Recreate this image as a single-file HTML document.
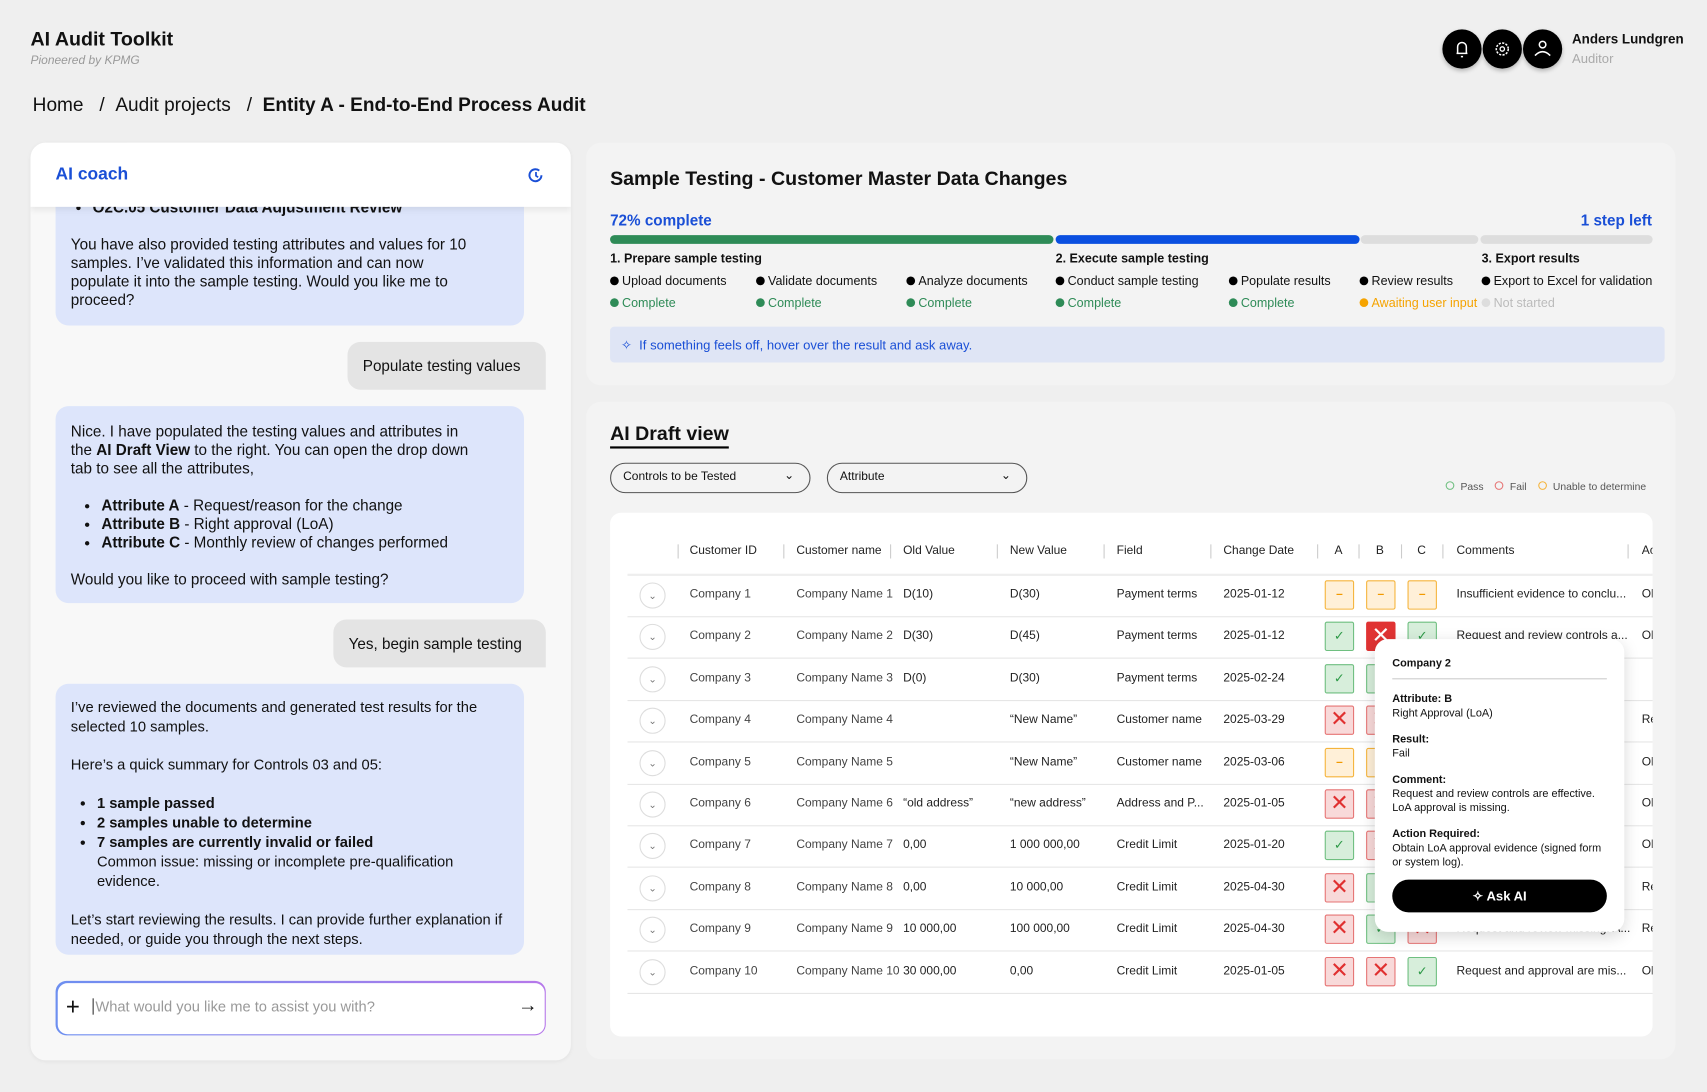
<!DOCTYPE html>
<html><head><meta charset="utf-8"><style>
*{box-sizing:border-box;margin:0;padding:0}
html,body{width:1707px;height:1092px;overflow:hidden;background:#efefef;font-family:"Liberation Sans",sans-serif;color:#111}
#w{position:absolute;left:0;top:0;width:1567px;height:1003px;transform:scale(1.0894,1.0887);transform-origin:0 0}
.a{position:absolute;white-space:nowrap}
.ic{position:absolute;width:36px;height:36px;border-radius:50%;background:#000;box-shadow:0 2px 4px rgba(0,0,0,.25)}
.card{position:absolute;border-radius:14px}
.bub{position:absolute;background:#dde5fb;border-radius:0 0 12px 12px;font-size:14px;line-height:17px;padding:0 40px 0 14px}
.ub{position:absolute;background:#e4e4e4;border-radius:12px 12px 0 12px;font-size:14px;padding:0 14px;line-height:44px}
ul{padding-left:20px}
.dot{display:inline-block;width:8px;height:8px;border-radius:50%;margin-right:3px;vertical-align:0}
.step{font-size:11.5px;position:absolute;white-space:nowrap}
.th{position:absolute;top:500px;font-size:11px;color:#222}
.sep{position:absolute;top:500px;width:1px;height:13px;background:#ccc}
.row{position:absolute;left:576px;width:941px;height:1px;background:#e6e6e6}
.td{position:absolute;font-size:11px;color:#444;white-space:nowrap}
.chev{position:absolute;width:24px;height:24px;border:1px solid #ddd;border-radius:50%;left:587px;font-size:9px;color:#777;text-align:center;line-height:22px}
.bx{position:absolute;width:27px;height:27px;border-radius:2px;text-align:center;font-size:16px;line-height:25px}
.P{background:#d7eedb;border:1px solid #6fbf80;color:#2e9a48;font-size:12px}
.F{background:#f8d9d9;border:1px solid #e67474;color:#e03030;font-size:20px}
.U{background:#fff0d8;border:1px solid #f5b43c;color:#f29a00;font-size:11px;font-weight:bold}
.FS{background:#e03333;border:1px solid #e03333;color:#fff;font-size:20px}
</style></head><body><div id="w">
<div class="a" style="left:28px;top:26px;font-size:18px;font-weight:bold">AI Audit Toolkit</div>
<div class="a" style="left:28px;top:50px;font-size:11px;color:#999;font-style:italic">Pioneered by KPMG</div>
<div class="ic" style="left:1324px;top:27px"><svg width="36" height="36"><path d="M13 22h10M14 22v-6a4 4 0 0 1 8 0v6M17 25h2" stroke="#fff" stroke-width="1.4" fill="none"/></svg></div>
<div class="ic" style="left:1361px;top:27px"><svg width="36" height="36"><circle cx="18" cy="18" r="5.5" stroke="#fff" stroke-width="1.4" fill="none" stroke-dasharray="2 1.2"/><circle cx="18" cy="18" r="2" stroke="#fff" stroke-width="1.2" fill="none"/></svg></div>
<div class="ic" style="left:1398px;top:27px"><svg width="36" height="36"><circle cx="18" cy="14" r="3" stroke="#fff" stroke-width="1.4" fill="none"/><path d="M11 24q7-7 14 0" stroke="#fff" stroke-width="1.4" fill="none"/></svg></div>
<div class="a" style="left:1443px;top:29px;font-size:12.3px;font-weight:bold">Anders Lundgren</div>
<div class="a" style="left:1443px;top:47px;font-size:12px;color:#aaa">Auditor</div>
<div class="a" style="left:30px;top:86px;font-size:17.5px">Home &nbsp;&nbsp;/ &nbsp;Audit projects &nbsp;&nbsp;/ &nbsp;<b>Entity A - End-to-End Process Audit</b></div>

<div class="card" style="left:28px;top:131px;width:496px;height:843px;background:#f8f8f8;box-shadow:0 1px 4px rgba(0,0,0,.06);overflow:hidden">
 <div class="bub" style="left:23px;top:40px;width:430px;height:128px;padding-top:17px"><ul style="font-weight:bold;margin-top:-6px"><li>O2C.05 Customer Data Adjustment Review</li></ul><div style="margin-top:17px">You have also provided testing attributes and values for 10 samples. I’ve validated this information and can now populate it into the sample testing. Would you like me to proceed?</div></div>
 <div class="ub" style="left:291px;top:183px;width:182px">Populate testing values</div>
 <div class="bub" style="left:23px;top:242px;width:430px;height:181px;border-radius:12px;padding-top:15px">Nice. I have populated the testing values and attributes in the <b>AI Draft View</b> to the right. You can open the drop down tab to see all the attributes,<ul style="margin:17px 0 17px 8px"><li><b>Attribute A</b> - Request/reason for the change</li><li><b>Attribute B</b> - Right approval (LoA)</li><li><b>Attribute C</b> - Monthly review of changes performed</li></ul>Would you like to proceed with sample testing?</div>
 <div class="ub" style="left:278px;top:438px;width:195px">Yes, begin sample testing</div>
 <div class="bub" style="left:23px;top:497px;width:430px;height:249px;border-radius:12px;padding-top:13px;padding-right:18px;font-size:13.5px;line-height:18px">I’ve reviewed the documents and generated test results for the selected 10 samples.<div style="margin-top:17px">Here’s a quick summary for Controls 03 and 05:</div><ul style="margin:17px 0 17px 4px;font-weight:bold"><li>1 sample passed</li><li>2 samples unable to determine</li><li>7 samples are currently invalid or failed<div style="font-weight:normal">Common issue: missing or incomplete pre-qualification evidence.</div></li></ul>Let’s start reviewing the results. I can provide further explanation if needed, or guide you through the next steps.</div>
 <div style="position:absolute;left:0;top:0;width:496px;height:59px;background:#fff;box-shadow:0 3px 6px rgba(0,0,0,.08)"><div class="a" style="left:23px;top:21px;font-size:16px;font-weight:bold;color:#1a4fd6">AI coach</div><svg class="a" style="left:455px;top:21px" width="18" height="18"><path d="M14 9a5.5 5.5 0 1 1-2-4.3" stroke="#1a4fd6" stroke-width="1.8" fill="none"/><path d="M9 6v3.5l2 1.3" stroke="#1a4fd6" stroke-width="1.6" fill="none"/></svg></div>
 <div style="position:absolute;left:23px;top:770px;width:450px;height:50px;border-radius:10px;background:linear-gradient(90deg,#6d8ff0,#b678ea);padding:1.5px"><div style="background:#fff;width:100%;height:100%;border-radius:9px;position:relative"><div class="a" style="left:8px;top:10px;font-size:22px;line-height:24px">+</div><div class="a" style="left:32px;top:14px;font-size:13.5px;color:#999;border-left:1.5px solid #333;padding-left:2px">What would you like me to assist you with?</div><div class="a" style="left:423px;top:10px;font-size:18px">→</div></div></div>
</div>

<div class="card" style="left:538px;top:131px;width:1000px;height:223px;background:#f3f3f3"></div>
<div class="a" style="left:560px;top:154px;font-size:18px;font-weight:bold">Sample Testing - Customer Master Data Changes</div>
<div class="a" style="left:560px;top:194px;font-size:14px;color:#1a4fd6;font-weight:bold">72% complete</div>
<div class="a" style="left:1451px;top:194px;font-size:14px;color:#1a4fd6;font-weight:bold">1 step left</div>
<div class="a" style="left:560px;top:216px;width:407px;height:8px;border-radius:4px;background:#2e8b57"></div>
<div class="a" style="left:969px;top:216px;width:279px;height:8px;border-radius:4px;background:#0a4fe0"></div>
<div class="a" style="left:1249px;top:216px;width:108px;height:8px;border-radius:4px;background:#ddd"></div>
<div class="a" style="left:1359px;top:216px;width:158px;height:8px;border-radius:4px;background:#ddd"></div>
<div class="step" style="left:560px;top:232px;font-weight:bold">1. Prepare sample testing</div>
<div class="step" style="left:969px;top:232px;font-weight:bold">2. Execute sample testing</div>
<div class="step" style="left:1360px;top:232px;font-weight:bold">3. Export results</div>
<div class="step" style="left:560px;top:253px"><span class="dot" style="background:#000"></span>Upload documents</div>
<div class="step" style="left:694px;top:253px"><span class="dot" style="background:#000"></span>Validate documents</div>
<div class="step" style="left:832px;top:253px"><span class="dot" style="background:#000"></span>Analyze documents</div>
<div class="step" style="left:969px;top:253px"><span class="dot" style="background:#000"></span>Conduct sample testing</div>
<div class="step" style="left:1128px;top:253px"><span class="dot" style="background:#000"></span>Populate results</div>
<div class="step" style="left:1248px;top:253px"><span class="dot" style="background:#000"></span>Review results</div>
<div class="step" style="left:1360px;top:253px"><span class="dot" style="background:#000"></span>Export to Excel for validation</div>
<div class="step" style="left:560px;top:273px;color:#2e8b57"><span class="dot" style="background:#2e8b57"></span>Complete</div>
<div class="step" style="left:694px;top:273px;color:#2e8b57"><span class="dot" style="background:#2e8b57"></span>Complete</div>
<div class="step" style="left:832px;top:273px;color:#2e8b57"><span class="dot" style="background:#2e8b57"></span>Complete</div>
<div class="step" style="left:969px;top:273px;color:#2e8b57"><span class="dot" style="background:#2e8b57"></span>Complete</div>
<div class="step" style="left:1128px;top:273px;color:#2e8b57"><span class="dot" style="background:#2e8b57"></span>Complete</div>
<div class="step" style="left:1248px;top:273px;color:#f5a300"><span class="dot" style="background:#f5a300"></span>Awaiting user input</div>
<div class="step" style="left:1360px;top:273px;color:#bbb"><span class="dot" style="background:#ddd"></span>Not started</div>
<div class="a" style="left:560px;top:300px;width:968px;height:33px;border-radius:4px;background:#dfe5f5"></div>
<div class="a" style="left:570px;top:310px;font-size:12px;color:#1a4fd6">✧ &nbsp;If something feels off, hover over the result and ask away.</div>

<div class="card" style="left:538px;top:369px;width:1000px;height:604px;background:#f3f3f3"></div>
<div class="a" style="left:560px;top:388px;font-size:18px;font-weight:bold;border-bottom:2px solid #000;padding-bottom:1px">AI Draft view</div>
<div class="a" style="left:560px;top:425px;width:184px;height:28px;border:1px solid #555;border-radius:14px;font-size:11px;padding:6px 11px">Controls to be Tested<span style="position:absolute;right:14px;top:4px">⌄</span></div>
<div class="a" style="left:759px;top:425px;width:184px;height:28px;border:1px solid #555;border-radius:14px;font-size:11px;padding:6px 11px">Attribute<span style="position:absolute;right:14px;top:4px">⌄</span></div>
<div class="a" style="left:1327px;top:442px;font-size:9.5px;color:#555"><span class="dot" style="border:1px solid #6fbf80;background:none"></span> Pass &nbsp;&nbsp;&nbsp;<span class="dot" style="border:1px solid #e67474;background:none"></span> Fail &nbsp;&nbsp;&nbsp;<span class="dot" style="border:1px solid #f5b43c;background:none"></span> Unable to determine</div>
<div class="card" style="left:560px;top:471px;width:957px;height:481px;background:#fff;border-radius:10px;overflow:hidden">
</div>
<div class="sep" style="left:622px"></div><div class="sep" style="left:719px"></div><div class="sep" style="left:817px"></div><div class="sep" style="left:915px"></div><div class="sep" style="left:1013px"></div><div class="sep" style="left:1111px"></div><div class="sep" style="left:1209px"></div><div class="sep" style="left:1247px"></div><div class="sep" style="left:1286px"></div><div class="sep" style="left:1324px"></div><div class="sep" style="left:1494px"></div>
<div class="th" style="left:633px">Customer ID</div><div class="th" style="left:731px">Customer name</div><div class="th" style="left:829px">Old Value</div><div class="th" style="left:927px">New Value</div><div class="th" style="left:1025px">Field</div><div class="th" style="left:1123px">Change Date</div><div class="th" style="left:1225px">A</div><div class="th" style="left:1263px">B</div><div class="th" style="left:1301px">C</div><div class="th" style="left:1337px">Comments</div><div class="th" style="left:1507px;width:10px;overflow:hidden">Ac</div>
<div class="row" style="top:527px;height:2px;background:#eee"></div>
<div id="rows"></div>
<script>
var d=[["Company 1","Company Name 1","D(10)","D(30)","Payment terms","2025-01-12","U","U","U","Insufficient evidence to conclu...","Ol"],
["Company 2","Company Name 2","D(30)","D(45)","Payment terms","2025-01-12","P","FS","P","Request and review controls a...","Ol"],
["Company 3","Company Name 3","D(0)","D(30)","Payment terms","2025-02-24","P","P","P","All controls effective.",""],
["Company 4","Company Name 4","","“New Name”","Customer name","2025-03-29","F","F","F","Request and review missing.","Re"],
["Company 5","Company Name 5","","“New Name”","Customer name","2025-03-06","U","U","U","Insufficient evidence.","Ol"],
["Company 6","Company Name 6","“old address”","“new address”","Address and P...","2025-01-05","F","F","P","Request missing.","Ol"],
["Company 7","Company Name 7","0,00","1 000 000,00","Credit Limit","2025-01-20","P","F","P","Approval missing.","Ol"],
["Company 8","Company Name 8","0,00","10 000,00","Credit Limit","2025-04-30","F","P","F","Request and review missing.","Re"],
["Company 9","Company Name 9","10 000,00","100 000,00","Credit Limit","2025-04-30","F","P","F","Request and review missing. A...","Re"],
["Company 10","Company Name 10","30 000,00","0,00","Credit Limit","2025-01-05","F","F","P","Request and approval are mis...","Ol"]];
var g={P:"✓",F:"✕",FS:"✕",U:"–"},h="",xs=[633,731,829,927,1025,1123];
d.forEach(function(r,i){var c=547+i*38.4;
h+='<div class="chev" style="top:'+(c-12)+'px">⌄</div>';
for(var k=0;k<6;k++)h+='<div class="td" style="left:'+xs[k]+'px;top:'+(c-7)+'px;'+(k>=2?'color:#222':'')+'">'+r[k]+'</div>';
[1216,1254,1292].forEach(function(x,j){var s=r[6+j];h+='<div class="bx '+s+'" style="left:'+x+'px;top:'+(c-14)+'px">'+g[s]+'</div>'});
h+='<div class="td" style="left:1337px;top:'+(c-7)+'px;color:#222">'+r[9]+'</div><div class="td" style="left:1507px;top:'+(c-7)+'px;width:10px;overflow:hidden;color:#222">'+r[10]+'</div>';
h+='<div class="row" style="top:'+(c+19)+'px"></div>';});
document.getElementById('rows').innerHTML=h;
</script>
<div class="a" style="left:1262px;top:587px;width:229px;height:269px;background:#fff;border-radius:12px;box-shadow:0 4px 14px rgba(0,0,0,.15);font-size:10px;line-height:13px;white-space:normal;padding:16px 16px 0 16px">
<div style="font-weight:bold;padding-bottom:7px;border-bottom:1px solid #ccc">Company 2</div>
<div style="margin-top:12px"><b>Attribute: B</b><br>Right Approval (LoA)</div>
<div style="margin-top:11px"><b>Result:</b><br>Fail</div>
<div style="margin-top:11px"><b>Comment:</b><br>Request and review controls are effective. LoA approval is missing.</div>
<div style="margin-top:11px"><b>Action Required:</b><br>Obtain LoA approval evidence (signed form or system log).</div>
<div style="margin-top:9px;height:30px;border-radius:15px;background:#000;color:#fff;text-align:center;line-height:30px;font-weight:bold;font-size:12px">✧ Ask AI</div>
</div>
</div></body></html>
